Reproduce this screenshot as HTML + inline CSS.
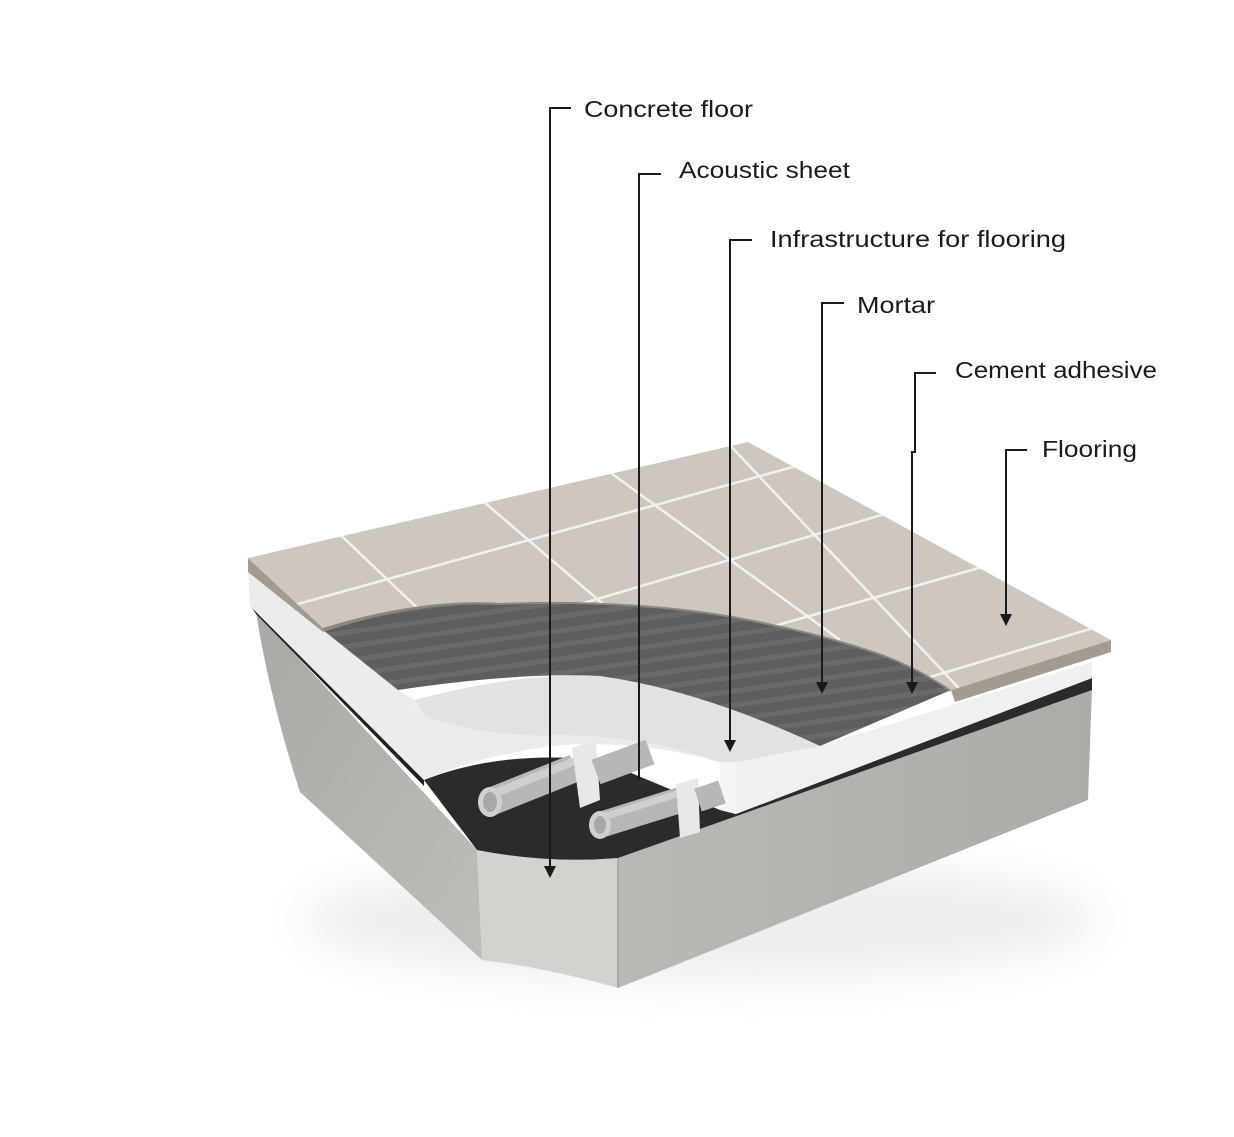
<!DOCTYPE html>
<html><head><meta charset="utf-8"><style>
html,body{margin:0;padding:0;background:#fff}
svg{display:block}
text{font-family:"Liberation Sans",sans-serif;font-size:23px;fill:#1a1a1a}
</style></head><body>
<svg width="1234" height="1137" viewBox="0 0 1234 1137" xmlns="http://www.w3.org/2000/svg">
<defs>
<filter id="blur" x="-50%" y="-50%" width="200%" height="200%"><feGaussianBlur stdDeviation="22"/></filter>
<linearGradient id="front" x1="0" y1="0" x2="1" y2="0"><stop offset="0" stop-color="#bab9b5"/><stop offset="1" stop-color="#acaba7"/></linearGradient>
<linearGradient id="left" x1="0" y1="0" x2="1" y2="1"><stop offset="0" stop-color="#a9a8a4"/><stop offset="1" stop-color="#bebdb9"/></linearGradient>
<pattern id="stripes" width="40" height="14" patternUnits="userSpaceOnUse" patternTransform="rotate(-8)"><rect width="40" height="14" fill="#5e5e5e"/><rect y="0" width="40" height="5" fill="#6a6a6a"/></pattern>
</defs>

<!-- shadow -->
<ellipse cx="700" cy="920" rx="400" ry="60" fill="#e2e2e2" filter="url(#blur)" opacity="0.6"/>

<!-- concrete left face -->
<path d="M256,612 L477,850 L482,960 L300,792 Q270,700 256,612 Z" fill="url(#left)"/>
<!-- concrete front face -->
<path d="M618,858 L1092,688 L1088,800 L618,988 Z" fill="url(#front)"/>
<!-- notch face -->
<path d="M477,850 Q548,864 618,858 L618,988 Q548,968 482,960 Z" fill="#d3d2ce"/>
<line x1="618" y1="858" x2="618" y2="988" stroke="#9d9c98" stroke-width="1.5"/>

<!-- black acoustic region -->
<path d="M424,780 Q500,750 600,760 L720,810 L1092,676 L1092,690 L618,858 Q548,864 477,850 Z" fill="#2b2b2b"/>
<path d="M250,605 L424,780 L424,786 L256,614 Z" fill="#222"/>

<!-- mortar left side -->
<path d="M248,570 L323,630 L398,690 L415,700 L424,780 L250,606 Z" fill="#ececea"/>
<!-- mortar cut area -->
<path d="M415,700 Q520,672 600,676 Q700,690 820,746 L1092,662 L1092,678 L736,814 L720,810 L720,762 Q640,740 560,745 Q480,755 424,780 Z" fill="#ebebe9"/>
<path d="M720,762 L736,762 L736,814 L720,810 Z" fill="#f4f4f2"/>
<path d="M736,762 L820,746 L1092,662 L1092,678 L736,814 Z" fill="#f0f0ee"/>
<path d="M415,700 Q520,672 600,676 Q700,690 820,746 L736,762 L720,762 Q640,735 560,735 Q480,738 424,715 Z" fill="#e2e2e0"/>

<!-- pipes -->
<g>
<line x1="490" y1="802" x2="575" y2="768" stroke="#b7b7b5" stroke-width="28"/>
<line x1="490" y1="795" x2="575" y2="761" stroke="#cfcfcd" stroke-width="8"/>
<ellipse cx="490" cy="802" rx="12" ry="15" fill="#d0d0ce"/>
<ellipse cx="490" cy="802" rx="7" ry="10" fill="#a8a8a6"/>
<path d="M572,748 L596,740 L600,800 L580,808 Z" fill="#e8e8e6"/>
<line x1="596" y1="772" x2="650" y2="752" stroke="#b7b7b5" stroke-width="26"/>
<line x1="600" y1="825" x2="680" y2="800" stroke="#b7b7b5" stroke-width="26"/>
<line x1="600" y1="818" x2="680" y2="793" stroke="#cfcfcd" stroke-width="7"/>
<ellipse cx="600" cy="825" rx="11" ry="14" fill="#d0d0ce"/>
<ellipse cx="600" cy="825" rx="6" ry="9" fill="#a8a8a6"/>
<path d="M676,784 L698,778 L700,832 L680,838 Z" fill="#e8e8e6"/>
<line x1="698" y1="800" x2="722" y2="792" stroke="#b7b7b5" stroke-width="24"/>
</g>

<!-- adhesive -->
<path d="M323,630 Q420,598 501,603 Q570,600 640,605 Q710,610 768,623 Q830,636 879,653 Q920,668 951,690 L820,746 Q700,690 600,676 Q520,672 398,690 Z" fill="url(#stripes)"/>
<path d="M323,630 Q420,598 501,603 Q570,600 640,605 Q710,610 768,623 Q830,636 879,653 Q920,668 951,690" fill="none" stroke="#8e857c" stroke-width="4"/>

<!-- tile side -->
<path d="M248,558 L248,572 L323,632 L323,628 Z" fill="#a39b92"/>
<path d="M951,690 L1111,640 L1111,652 L955,702 Z" fill="#a39b92"/>
<clipPath id="tc"><path d="M248,558 L748,442 L1111,640 L951,690 Q920,668 879,653 Q830,636 768,623 Q710,610 640,605 Q570,600 501,603 Q420,598 323,628 Z"/></clipPath>
<path d="M248,558 L748,442 L1111,640 L951,690 Q920,668 879,653 Q830,636 768,623 Q710,610 640,605 Q570,600 501,603 Q420,598 323,628 Z" fill="#cdc7c0"/>
<g clip-path="url(#tc)" stroke="#f3f1ee" stroke-width="2.5">
<line x1="330" y1="525" x2="430" y2="620"/>
<line x1="470" y1="490" x2="610" y2="610"/>
<line x1="600" y1="465" x2="840" y2="640"/>
<line x1="725" y1="440" x2="970" y2="700"/>
<line x1="240" y1="620" x2="800" y2="465"/>
<line x1="560" y1="610" x2="1000" y2="480"/>
<line x1="760" y1="630" x2="1060" y2="545"/>
<line x1="920" y1="680" x2="1120" y2="620"/>
</g>

<!-- leaders -->
<g stroke="#1a1a1a" stroke-width="2" fill="none">
<polyline points="571,108 550,108 550,866"/>
<polyline points="661,174 639,174 639,780"/>
<polyline points="752,240 730,240 730,740"/>
<polyline points="844,303 822,303 822,682"/>
<polyline points="936,373 915,373 915,452 912,452 912,682"/>
<polyline points="1027,450 1006,450 1006,614"/>
</g>
<g fill="#1a1a1a">
<path d="M544,866 L556,866 L550,878 Z"/>
<path d="M724,740 L736,740 L730,752 Z"/>
<path d="M816,682 L828,682 L822,694 Z"/>
<path d="M906,682 L918,682 L912,694 Z"/>
<path d="M1000,614 L1012,614 L1006,626 Z"/>
</g>

<text x="584" y="117" textLength="169" lengthAdjust="spacingAndGlyphs">Concrete floor</text>
<text x="679" y="178" textLength="171" lengthAdjust="spacingAndGlyphs">Acoustic sheet</text>
<text x="770" y="247" textLength="296" lengthAdjust="spacingAndGlyphs">Infrastructure for flooring</text>
<text x="857" y="313" textLength="78" lengthAdjust="spacingAndGlyphs">Mortar</text>
<text x="955" y="378" textLength="202" lengthAdjust="spacingAndGlyphs">Cement adhesive</text>
<text x="1042" y="457" textLength="95" lengthAdjust="spacingAndGlyphs">Flooring</text>
</svg>
</body></html>
